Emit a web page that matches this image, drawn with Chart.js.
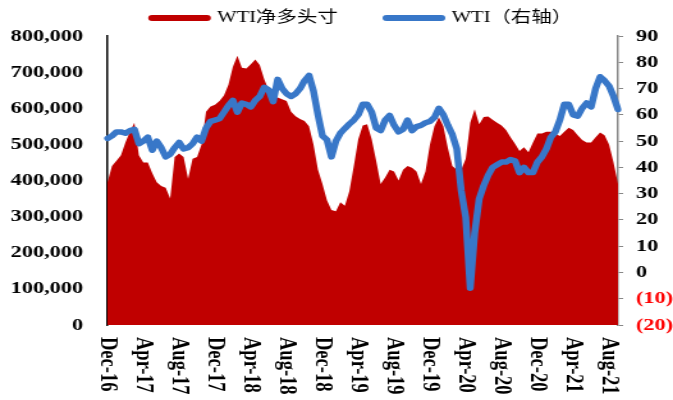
<!DOCTYPE html>
<html>
<head>
<meta charset="utf-8">
<script src="https://cdn.jsdelivr.net/npm/chart.js@4"></script>
<style>
  html, body { margin: 0; padding: 0; background: #fff; overflow: hidden; }
  /* the reference picture is stretched sideways, so the chart is drawn narrow and widened */
  #chart { display: block; transform: scaleX(1.2795); transform-origin: 0 0; }
</style>
</head>
<body>
<canvas id="chart" width="526" height="400"></canvas>
<script>
// tick labels, one every 4 months; data points are half-monthly
const tickLabels = ['Dec-16', 'Apr-17', 'Aug-17', 'Dec-17', 'Apr-18', 'Aug-18', 'Dec-18', 'Apr-19',
    'Aug-19', 'Dec-19', 'Apr-20', 'Aug-20', 'Dec-20', 'Apr-21', 'Aug-21'];

// WTI net long positions (contracts)
const netLong = [
    395000, 440000, 455000, 470000, 505000, 535000, 560000, 470000, 450000, 450000,
    420000, 395000, 385000, 380000, 350000, 465000, 475000, 465000, 405000, 460000,
    465000, 500000, 590000, 605000, 610000, 620000, 635000, 665000, 715000, 745000,
    712000, 710000, 722000, 735000, 720000, 680000, 650000, 630000, 630000, 625000,
    620000, 590000, 578000, 570000, 565000, 550000, 500000, 430000, 390000, 345000,
    318000, 315000, 340000, 330000, 370000, 440000, 514000, 552000, 556000, 514000,
    455000, 390000, 408000, 430000, 425000, 400000, 430000, 440000, 435000, 425000,
    390000, 425000, 500000, 550000, 575000, 550000, 490000, 440000, 430000, 430000,
    460000, 560000, 597000, 556000, 576000, 577000, 568000, 560000, 552000, 540000,
    520000, 502000, 482000, 492000, 478000, 505000, 530000, 530000, 535000, 535000,
    530000, 523000, 535000, 546000, 540000, 525000, 512000, 505000, 505000, 520000,
    533000, 525000, 500000, 450000, 390000
];

// WTI price, right axis
const wtiPrice = [
    51, 52, 53.5, 53.5, 53, 54, 54.5, 49, 50, 51.5,
    46.5, 50, 47.5, 44, 45, 47.5, 49.5, 47, 47.5, 49,
    51.5, 50, 55, 57.5, 58, 58.5, 61, 63.5, 65.5, 61,
    64.5, 64, 63, 65.5, 67, 70.5, 69.5, 65, 73.5, 70,
    68, 67, 68, 70, 73, 75, 69, 60, 52, 50.5,
    44, 50, 53, 54.8, 56.5, 58, 60, 64, 64, 61,
    55, 54, 58, 59.8, 56, 53.5, 54.5, 58, 54, 55.5,
    56, 57, 57.5, 59, 62.5, 60, 56, 52.5, 47, 31,
    21, -6, 15, 28, 33, 37, 40, 41, 42, 42,
    43, 42.5, 38, 40, 38, 38, 42, 44, 47, 51.5,
    53.5, 58, 64, 64, 60, 59.5, 62.5, 64.5, 63, 70,
    74.5, 73, 71, 67, 62
];

const seriesNames = ['WTI净多头寸', 'WTI（右轴）'];
const perTick = 8;

// category per point: a tick label every 8th point, blanks between
const categories = netLong.map((v, i) => (i % perTick === 0 && tickLabels[i / perTick]) ? tickLabels[i / perTick] : '');

const serif = "'Liberation Serif', 'Times New Roman', 'Noto Sans CJK SC', serif";
const red = '#C00000';
const blue = '#3877C8';

// x labels read top to bottom, so they are drawn here instead of by the scale
const xLabelPlugin = {
    id: 'xLabels',
    afterLayout(chart) {
        chart.legend.left += 16;
        chart.legend.right += 16;
    },
    afterDraw(chart) {
        const ctx = chart.ctx;
        const xScale = chart.scales.x;
        ctx.save();
        ctx.font = 'bold 18.5px ' + serif;
        ctx.fillStyle = '#000';
        ctx.textAlign = 'left';
        ctx.textBaseline = 'middle';
        categories.forEach((label, i) => {
            if (!label) return;
            const x = xScale.getPixelForValue(i);
            ctx.save();
            ctx.translate(x, chart.chartArea.bottom + 12);
            ctx.rotate(Math.PI / 2);
            ctx.fillText(label, 0, 0);
            ctx.restore();
        });
        ctx.restore();
    }
};

new Chart(document.getElementById('chart'), {
    type: 'line',
    data: {
        labels: categories,
        datasets: [{
            label: seriesNames[0],
            data: netLong,
            yAxisID: 'y',
            backgroundColor: red,
            borderColor: red,
            borderWidth: 0,
            fill: 'origin',
            pointRadius: 0,
            tension: 0,
            order: 1
        }, {
            label: seriesNames[1],
            data: wtiPrice,
            yAxisID: 'y1',
            borderColor: blue,
            backgroundColor: blue,
            borderWidth: 5.5,
            fill: false,
            pointRadius: 0,
            tension: 0,
            borderJoinStyle: 'round',
            borderCapStyle: 'round',
            order: 0
        }]
    },
    options: {
        responsive: false,
        animation: false,
        layout: { padding: { left: 8, right: 0, top: 0, bottom: 0 } },
        plugins: {
            tooltip: { enabled: false },
            legend: {
                position: 'top',
                labels: {
                    usePointStyle: true,
                    pointStyleWidth: 43,
                    padding: 10,
                    color: '#000',
                    font: { family: serif, size: 16 },
                    sort: (a, b) => a.datasetIndex - b.datasetIndex,
                    generateLabels(chart) {
                        const items = Chart.defaults.plugins.legend.labels.generateLabels(chart);
                        items.forEach(item => {
                            const ds = chart.data.datasets[item.datasetIndex];
                            item.pointStyle = 'line';
                            item.lineWidth = 6;
                            item.strokeStyle = ds.borderColor;
                            item.lineCap = 'round';
                            // trailing spaces widen the gap between the two entries
                            if (item.datasetIndex === 0) item.text = ds.label + '       ';
                        });
                        return items;
                    }
                }
            }
        },
        scales: {
            x: {
                type: 'category',
                offset: false,
                grid: { display: false, drawTicks: false },
                border: { display: false },
                ticks: { display: false },
                afterFit(scale) { scale.height = 75; }
            },
            y: {
                position: 'left',
                min: 0,
                max: 800000,
                grid: { display: false, drawTicks: false },
                border: { display: true, color: '#000', width: 1.5 },
                ticks: {
                    stepSize: 100000,
                    autoSkip: false,
                    padding: 19,
                    color: '#000',
                    font: { family: serif, size: 17.5, weight: 'bold' },
                    callback: v => v.toLocaleString('en-US')
                },
                afterFit(scale) { scale.width = 76; }
            },
            y1: {
                position: 'right',
                min: -20,
                max: 90,
                grid: { drawOnChartArea: false, drawTicks: true, tickLength: 4, color: '#888' },
                border: { display: true, color: '#888', width: 1.5 },
                ticks: {
                    stepSize: 10,
                    autoSkip: false,
                    padding: 10,
                    color: ctx => ctx.tick.value < 0 ? '#FF0000' : '#000',
                    font: { family: serif, size: 17.5, weight: 'bold' },
                    callback: v => v < 0 ? '(' + Math.abs(v) + ')' : String(v)
                },
                afterFit(scale) { scale.width = 43; }
            }
        }
    },
    plugins: [xLabelPlugin]
});
</script>
</body>
</html>
